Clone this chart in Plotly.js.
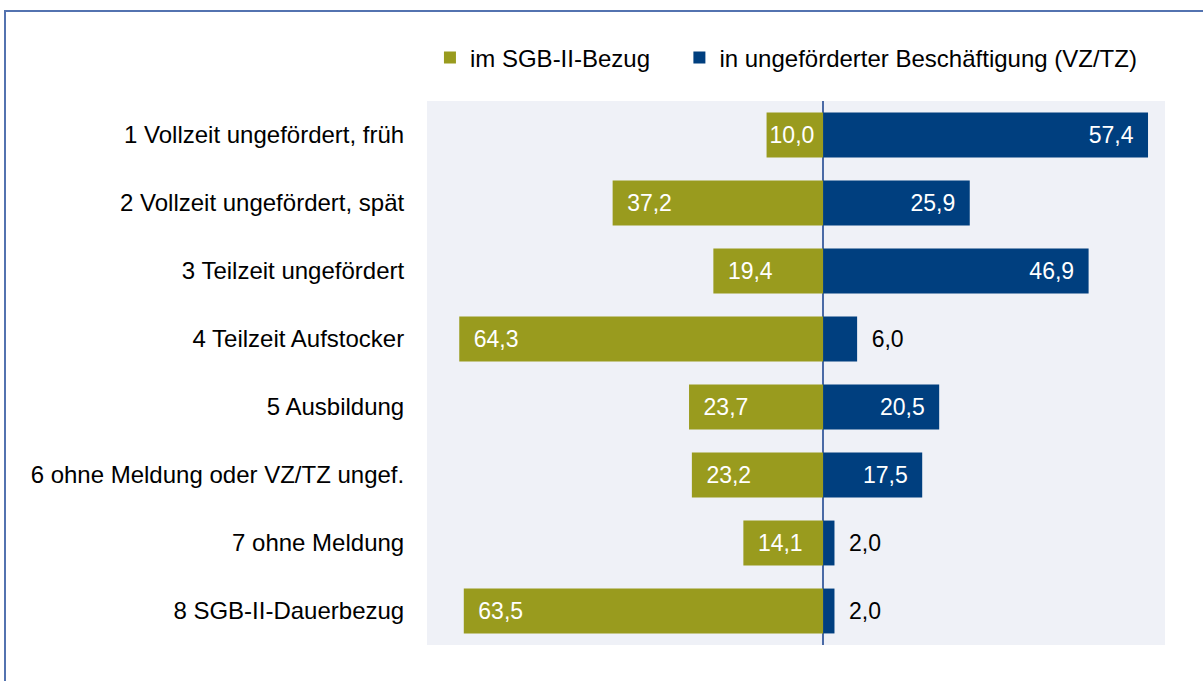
<!DOCTYPE html>
<html>
<head>
<meta charset="utf-8">
<script src="https://cdn.plot.ly/plotly-3.0.1.min.js"></script>
<style>
  html, body { margin: 0; padding: 0; background: #ffffff; overflow: hidden; }
  #wrap { position: relative; width: 1203px; height: 681px; }
  #chart { position: absolute; left: 0; top: 0; width: 1203px; height: 681px; }
  #frame { position: absolute; left: 4px; top: 10px; width: 1300px; height: 800px;
           border: 2px solid #5373b0; box-sizing: border-box; pointer-events: none; }
</style>
</head>
<body>
<div id="wrap">
  <div id="chart"></div>
  <div id="frame"></div>
</div>
<script>
const categories = [
  "1 Vollzeit ungefördert, früh",
  "2 Vollzeit ungefördert, spät",
  "3 Teilzeit ungefördert",
  "4 Teilzeit Aufstocker",
  "5 Ausbildung",
  "6 ohne Meldung oder VZ/TZ ungef.",
  "7 ohne Meldung",
  "8 SGB-II-Dauerbezug"
];
const sgbII = [10.0, 37.2, 19.4, 64.3, 23.7, 23.2, 14.1, 63.5];
const beschaeftigung = [57.4, 25.9, 46.9, 6.0, 20.5, 17.5, 2.0, 2.0];
const seriesNames = ["im SGB-II-Bezug", "in ungeförderter Beschäftigung (VZ/TZ)"];

const fmt = v => v.toFixed(1).replace('.', ',');
const PAD = '\u2002';
const FONT = "Liberation Sans, Arial, sans-serif";
const FS = 23;
const FS_AXIS = 24;
const OLIVE = "#999b1e";
const NAVY = "#003f7f";

const traces = [
  {
    type: 'bar', orientation: 'h', name: seriesNames[0], legend: 'legend',
    y: categories, x: sgbII.map(v => -v),
    marker: { color: OLIVE },
    text: sgbII.map(v => v >= 12 ? PAD + fmt(v) : fmt(v)),
    textposition: 'inside', insidetextanchor: 'end',
    textfont: { color: '#ffffff', size: FS, family: FONT },
    constraintext: 'none', hoverinfo: 'skip', cliponaxis: false
  },
  {
    type: 'bar', orientation: 'h', name: seriesNames[1], legend: 'legend2',
    y: categories, x: beschaeftigung,
    marker: { color: NAVY },
    text: beschaeftigung.map(v => v < 10 ? PAD + fmt(v) : fmt(v) + PAD),
    textposition: beschaeftigung.map(v => v < 10 ? 'outside' : 'inside'),
    insidetextanchor: 'end',
    insidetextfont: { color: '#ffffff', size: FS, family: FONT },
    outsidetextfont: { color: '#000000', size: FS, family: FONT },
    constraintext: 'none', hoverinfo: 'skip', cliponaxis: false
  }
];

const legendBase = {
  orientation: 'h', xanchor: 'left', yref: 'container', y: (681 - 58) / 681, yanchor: 'middle',
  font: { size: FS_AXIS, family: FONT, color: '#000000' },
  bgcolor: 'rgba(0,0,0,0)', itemclick: false, itemdoubleclick: false
};

const layout = {
  width: 1203, height: 681,
  margin: { l: 427, r: 38, t: 101, b: 36, pad: 0 },
  paper_bgcolor: 'rgba(0,0,0,0)',
  plot_bgcolor: '#eff1f7',
  font: { family: FONT, size: FS, color: '#000000' },
  barmode: 'relative',
  bargap: 0.34,
  showlegend: true,
  legend: Object.assign({}, legendBase, { x: 0.004 }),
  legend2: Object.assign({}, legendBase, { x: 0.342 }),
  xaxis: {
    range: [-70, 60.4], showgrid: false, showticklabels: false, ticks: '',
    zeroline: true, zerolinecolor: '#4a6aa6', zerolinewidth: 2, fixedrange: true
  },
  yaxis: {
    autorange: 'reversed', showgrid: false, zeroline: false,
    ticks: 'outside', ticklen: 17, tickcolor: 'rgba(0,0,0,0)',
    tickfont: { size: FS_AXIS, family: FONT, color: '#000000' }, fixedrange: true
  }
};

Plotly.newPlot('chart', traces, layout, { displayModeBar: false, staticPlot: true });
</script>
</body>
</html>
